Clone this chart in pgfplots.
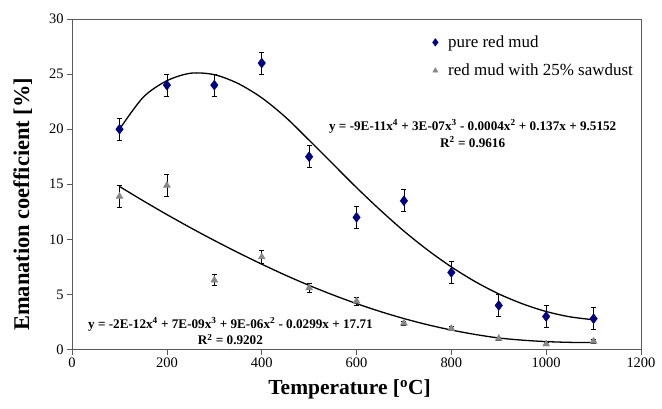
\documentclass[border=0pt]{standalone}
\usepackage{fontspec}
\setmainfont{Liberation Serif}
\usepackage{pgfplots}
\pgfplotsset{compat=1.18}
\definecolor{mudblue}{RGB}{0,0,128}
\definecolor{sawgray}{RGB}{135,135,135}
\definecolor{framegray}{RGB}{90,90,90}
\begin{document}
\begin{tikzpicture}
\begin{axis}[
  scale only axis,
  width=568bp, height=330bp,
  xmin=0, xmax=1200, ymin=0, ymax=30,
  xtick={0,200,...,1200}, ytick={0,5,...,30},
  tick align=outside, tick pos=left,
  major tick length=5bp,
  axis line style={framegray, line width=0.8bp},
  every tick/.style={framegray, line width=0.8bp},
  /pgf/number format/assume math mode=true,
  /pgf/number format/set thousands separator={},
  ticklabel style={font=\fontsize{14.5}{16}\selectfont},
  xlabel={\textbf{Temperature [\textsuperscript{o}C]}},
  ylabel={\textbf{Emanation coefficient [\%]}},
  label style={font=\fontsize{21.5}{23}\selectfont},
  xlabel style={yshift=-5bp, xshift=-7bp},
  ylabel style={font=\fontsize{22.5}{24}\selectfont, yshift=10bp, xshift=-20bp},
  legend style={at={(0.628,0.962)}, anchor=north west, draw=none, fill=none,
    font=\fontsize{17}{20}\selectfont, row sep=11bp, column sep=8bp},
  legend cell align=left,
  legend image code/.code={\draw[#1, mark options={scale=0.75}] plot coordinates {(0.2cm,0cm)};},
]
\addplot[only marks, mark=diamond*, mark size=5bp, color=mudblue,
  error bars/.cd, y dir=both, y explicit,
  error bar style={black, line width=0.7bp},
  error mark options={rotate=90, mark size=2.5bp, black, line width=0.7bp}]
  coordinates {
  (100,20) +- (0,1)
  (200,24) +- (0,1)
  (300,24) +- (0,1)
  (400,26) +- (0,1)
  (500,17.5) +- (0,1)
  (600,12) +- (0,1)
  (700,13.5) +- (0,1)
  (800,7) +- (0,1)
  (900,4) +- (0,1)
  (1000,3) +- (0,1)
  (1100,2.8) +- (0,1)
};
\addlegendentry{pure red mud}
\addplot[only marks, mark=triangle*, mark size=4bp, color=sawgray,
  error bars/.cd, y dir=both, y explicit,
  error bar style={black, line width=0.7bp},
  error mark options={rotate=90, mark size=2.5bp, black, line width=0.7bp}]
  coordinates {
  (100,13.9) +- (0,1)
  (200,14.9) +- (0,1)
  (300,6.3) +- (0,0.5)
  (400,8.4) +- (0,0.6)
  (500,5.6) +- (0,0.4)
  (600,4.4) +- (0,0.35)
  (700,2.4) +- (0,0.2)
  (800,1.9) +- (0,0.2)
  (900,1.0) +- (0,0.15)
  (1000,0.5) +- (0,0.15)
  (1100,0.75) +- (0,0.15)
};
\addlegendentry{red mud with 25\% sawdust}
% trend lines
\addplot[black, line width=1.3bp, smooth, forget plot] coordinates {
  (100,20.0) (150,22.9) (200,24.4) (250,25.08) (300,24.95) (350,24.15)
  (400,22.85) (450,21.1) (500,19.0) (550,16.85) (600,14.7) (650,12.66)
  (700,10.75) (750,9.03) (800,7.5) (850,6.17) (900,5.05) (950,4.15)
  (1000,3.45) (1050,2.97) (1100,2.7)
};
\addplot[black, line width=1.3bp, smooth, forget plot] coordinates {
  (100,14.8) (150,13.5) (200,12.25) (250,11.05) (300,9.9) (350,8.8)
  (400,7.75) (450,6.75) (500,5.82) (550,4.96) (600,4.17) (650,3.45)
  (700,2.81) (750,2.25) (800,1.77) (850,1.37) (900,1.05) (950,0.85)
  (1000,0.72) (1050,0.65) (1100,0.63)
};
\node[font=\bfseries\fontsize{13.2}{17}\selectfont, align=center]
  at (axis cs:845,19.6)
  {y = -9E-11x\textsuperscript{4} + 3E-07x\textsuperscript{3} - 0.0004x\textsuperscript{2} + 0.137x + 9.5152\\R\textsuperscript{2} = 0.9616};
\node[font=\bfseries\fontsize{13.2}{17}\selectfont, align=center]
  at (axis cs:334,1.65)
  {y = -2E-12x\textsuperscript{4} + 7E-09x\textsuperscript{3} + 9E-06x\textsuperscript{2} - 0.0299x + 17.71\\R\textsuperscript{2} = 0.9202};
\end{axis}
\pgfresetboundingbox
\path[use as bounding box] ([xshift=-72bp,yshift=-59bp]current axis.south west)
  rectangle ([xshift=21bp,yshift=19bp]current axis.north east);
\end{tikzpicture}
\end{document}
